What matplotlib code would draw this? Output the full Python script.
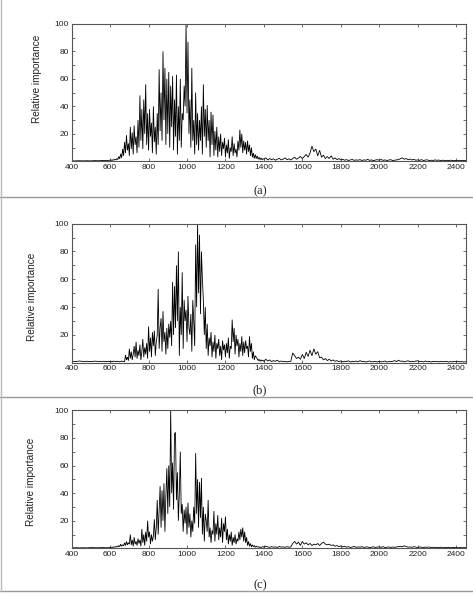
import numpy as np
import matplotlib
matplotlib.use("Agg")
import matplotlib.pyplot as plt
from matplotlib.lines import Line2D

# ---------------- data ----------------
x_lo = np.arange(400, 600, 20)      # 10 points
x_mid = np.arange(600, 1400, 5)     # 160 points
x_hi = np.arange(1400, 2460, 10)    # 106 points

a_lo = [0.3, 0.3, 0.4, 0.3, 0.4, 0.3, 0.5, 0.4, 0.6, 0.5]
a_mid = [
    0.8, 1.0, 0.6, 1.2, 0.8, 1.5, 1.0, 2.0, 1.2, 3.5, 1.8, 5.5, 2.5, 9, 4, 14, 6, 19, 8, 13,
    4, 25, 9, 21, 5, 26, 12, 18, 6, 30, 10, 48, 15, 38, 9, 45, 20, 56, 12, 35,
    8, 38, 18, 28, 6, 40, 14, 25, 5, 35, 12, 67, 22, 50, 15, 80, 30, 68, 12, 60,
    20, 65, 10, 55, 25, 62, 8, 45, 18, 63, 5, 40, 15, 60, 10, 35, 30, 55, 40, 100,
    35, 87, 20, 45, 10, 68, 15, 30, 5, 50, 12, 35, 8, 30, 15, 40, 5, 56, 18, 38,
    10, 41, 15, 30, 3, 36, 12, 34, 4, 22, 8, 25, 3, 18, 7, 20, 4, 14, 9, 17,
    3, 12, 6, 16, 2, 10, 7, 18, 4, 13, 6, 9, 3, 15, 8, 23, 10, 20, 6, 15,
    8, 14, 5, 15, 7, 12, 4, 10, 3, 6, 2, 5, 2, 4, 1.5, 3, 1.2, 2.5, 1.0, 2,
]
a_hi = [
    1.5, 2.5, 1.0, 2.0, 1.2, 1.8, 0.8, 1.5, 2.2, 1.0,
    1.5, 2.5, 1.2, 1.8, 1.0, 2.0, 3.0, 1.5, 2.5, 3.5,
    2.0, 3.5, 5.0, 3.0, 6.0, 11.0, 7.0, 9.0, 4.0, 8.0,
    3.0, 4.5, 2.0, 3.5, 2.0, 4.0, 1.5, 2.5, 1.2, 2.0,
    1.0, 1.5, 0.8, 1.2, 0.6, 1.0, 1.3, 0.7, 1.0, 0.8,
    1.2, 0.6, 1.0, 0.8, 1.4, 0.7, 1.0, 0.5, 0.9, 1.2,
    0.8, 1.3, 0.7, 1.0, 0.6, 0.9, 1.2, 0.5, 0.8, 1.0,
    1.3, 1.8, 2.5, 1.5, 2.0, 1.2, 1.6, 1.0, 1.4, 0.8,
    1.0, 0.7, 1.2, 0.6, 0.9, 1.1, 0.5, 0.8, 0.6, 1.0,
    0.7, 0.9, 0.5, 0.8, 0.6, 0.7, 0.5, 0.8, 0.6, 0.5,
    0.6, 0.4, 0.7, 0.5, 0.6, 0.5,
]

b_lo = [1.0, 0.8, 1.2, 0.9, 1.0, 0.8, 1.1, 0.9, 1.0, 0.8]
b_mid = [
    0.8, 1.0, 0.6, 1.2, 0.9, 1.0, 0.7, 1.1, 0.8, 1.0, 0.6, 0.9, 1.2, 0.8, 1.0, 0.7, 5.5, 2.0, 4.0, 1.5,
    10, 3, 8, 2, 6, 12, 4, 15, 3, 9, 5, 13, 2, 8, 17, 4, 11, 6, 14, 3,
    26, 8, 18, 4, 22, 12, 23, 5, 15, 20, 53, 10, 25, 32, 8, 37, 15, 22, 6, 25,
    10, 28, 18, 30, 12, 58, 20, 55, 25, 70, 30, 80, 5, 40, 20, 65, 10, 45, 30, 38,
    15, 48, 25, 20, 35, 8, 45, 30, 12, 85, 40, 100, 50, 92, 35, 80, 60, 45, 20, 40,
    10, 28, 5, 18, 12, 22, 4, 15, 8, 20, 3, 14, 10, 17, 5, 12, 2, 16, 9, 13,
    4, 14, 7, 18, 3, 12, 10, 31, 15, 25, 6, 20, 12, 17, 4, 14, 8, 19, 5, 15,
    7, 16, 10, 12, 4, 19, 8, 14, 3, 8, 2, 5, 4, 3, 1.5, 2.5, 1.0, 2.0, 1.2, 1.8,
]
b_hi = [
    1.0, 2.5, 1.2, 2.0, 0.8, 1.5, 1.0, 1.8, 0.7, 1.2,
    0.8, 1.0, 0.6, 0.9, 1.0, 7.0, 5.0, 3.0, 4.0, 2.5,
    6.0, 3.0, 7.5, 4.5, 9.0, 5.0, 10.0, 6.0, 8.0, 3.5,
    4.0, 2.0, 3.0, 1.5, 2.5, 1.2, 2.0, 1.0, 1.5, 0.8,
    1.2, 0.6, 1.0, 0.8, 1.4, 0.5, 1.0, 0.7, 1.2, 0.6,
    1.5, 0.8, 1.0, 0.5, 0.9, 1.2, 0.6, 0.8, 1.0, 0.5,
    1.0, 0.6, 0.8, 1.2, 0.5, 0.9, 0.7, 1.0, 1.5, 0.8,
    1.8, 1.0, 1.2, 0.6, 1.0, 1.4, 0.7, 1.0, 0.8, 1.2,
    1.4, 0.8, 1.0, 0.6, 1.2, 0.7, 0.9, 0.5, 1.0, 0.8,
    0.9, 0.6, 1.0, 0.7, 0.8, 1.0, 0.5, 0.8, 0.6, 0.9,
    0.7, 1.0, 0.6, 0.8, 0.5, 0.7,
]

c_lo = [0.3, 0.4, 0.3, 0.4, 0.3, 0.5, 0.4, 0.4, 0.5, 0.4]
c_mid = [
    0.5, 0.8, 0.6, 1.0, 0.7, 1.2, 0.9, 1.5, 1.0, 2.0, 1.2, 3.0, 1.5, 2.5, 1.8, 4.0, 2.0, 5.0, 2.5, 4.0,
    3.0, 10.0, 2.5, 6.0, 1.5, 8.0, 3.0, 5.0, 2.0, 7.0, 3.5, 6.0, 1.5, 14.0, 4.0, 10.0, 2.0, 12.0, 5.0, 20.0,
    8.0, 12.0, 3.0, 10.0, 5.0, 9.0, 21.0, 6.0, 15.0, 35.0, 10.0, 28.0, 45.0, 15.0, 42.0, 20.0, 47.0, 12.0, 38.0, 58.0,
    25.0, 60.0, 30.0, 100.0, 40.0, 62.0, 28.0, 83.0, 84.0, 35.0, 55.0, 20.0, 40.0, 70.0, 25.0, 32.0, 12.0, 28.0, 18.0, 30.0,
    10.0, 33.0, 15.0, 25.0, 8.0, 20.0, 12.0, 30.0, 18.0, 69.0, 25.0, 50.0, 15.0, 48.0, 22.0, 51.0, 10.0, 30.0, 5.0, 25.0,
    20.0, 12.0, 35.0, 8.0, 15.0, 4.0, 13.0, 10.0, 27.0, 5.0, 18.0, 10.0, 24.0, 6.0, 15.0, 8.0, 22.0, 4.0, 18.0, 12.0,
    23.0, 6.0, 14.0, 3.0, 10.0, 5.0, 12.0, 2.0, 8.0, 4.0, 10.0, 3.0, 7.0, 5.0, 12.0, 6.0, 14.0, 8.0, 15.0, 5.0,
    12.0, 4.0, 8.0, 2.0, 5.0, 1.5, 3.5, 1.0, 2.5, 1.2, 2.0, 0.8, 1.5, 1.0, 1.2, 0.7, 1.0, 0.6, 0.9, 1.2,
]
c_hi = [
    0.8, 1.5, 1.0, 0.7, 1.2, 0.8, 1.0, 0.6, 1.3, 0.9,
    1.0, 0.7, 1.2, 0.8, 1.0, 3.5, 5.0, 3.0, 4.5, 2.0,
    5.0, 3.0, 4.0, 2.5, 3.5, 2.0, 3.0, 2.5, 3.5, 2.0,
    3.5, 4.5, 3.0, 2.5, 3.0, 2.0, 2.5, 1.5, 2.0, 1.2,
    1.8, 1.0, 1.5, 0.8, 1.2, 0.6, 1.0, 1.3, 0.7, 1.0,
    0.8, 1.2, 0.6, 0.9, 1.0, 0.5, 0.8, 1.1, 0.6, 0.9,
    1.0, 0.7, 1.2, 0.5, 0.8, 1.0, 0.6, 0.9, 0.7, 1.0,
    1.2, 1.5, 1.0, 1.8, 1.3, 0.8, 1.0, 0.7, 1.2, 0.9,
    0.6, 1.0, 0.8, 0.5, 0.9, 0.7, 1.0, 0.5, 0.8, 0.6,
    0.7, 0.5, 0.8, 0.4, 0.6, 0.5, 0.7, 0.4, 0.6, 0.5,
    0.5, 0.4, 0.6, 0.4, 0.5, 0.4,
]

x_ticks = [400, 600, 800, 1000, 1200, 1400, 1600, 1800, 2000, 2200, 2400]
y_ticks = [10, 20, 30, 40, 50, 60, 70, 80, 90, 100]
y_tick_labels = ["", "20", "", "40", "", "60", "", "80", "", "100"]
panel_labels = ["(a)", "(b)", "(c)"]
y_title = "Relative importance"

series = [(a_lo, a_mid, a_hi), (b_lo, b_mid, b_hi), (c_lo, c_mid, c_hi)]

# ---------------- layout ----------------
W, H = 473, 598
fig = plt.figure(figsize=(W / 100, H / 100), dpi=100)
fig.patch.set_facecolor("white")

def fx(px):
    return px / W

def fy(py):
    return 1 - py / H

ax_left, ax_right = 71.7, 465.7
ax_tb = [(24.0, 161.3), (223.7, 362.7), (410.3, 548.3)]
ylab_pos = [(36.7, 79), (31.7, 297), (31.0, 482)]
plab_pos = [(260, 191), (260, 390), (260, 585)]
sep_lines = [197, 397, 591]

sans = ["Liberation Sans", "DejaVu Sans"]
serif = ["Liberation Serif", "DejaVu Serif"]
spine_col = "#555555"

for i, (lo, mid, hi) in enumerate(series):
    top, bot = ax_tb[i]
    ax = fig.add_axes([fx(ax_left), fy(bot), fx(ax_right) - fx(ax_left), fy(top) - fy(bot)])
    xs = np.concatenate([x_lo[:len(lo)], x_mid[:len(mid)], x_hi[:len(hi)]])
    ys = np.concatenate([lo, mid, hi])
    ax.plot(xs, ys, color="black", lw=0.6, solid_joinstyle="miter")
    ax.set_xlim(400, 2450)
    ax.set_ylim(0, 100)
    ax.set_xticks(x_ticks)
    ax.set_xticklabels([str(t) for t in x_ticks], fontfamily=sans, fontsize=6)
    ax.set_yticks(y_ticks)
    ax.set_yticklabels(y_tick_labels, fontfamily=sans, fontsize=6)
    ax.tick_params(direction="in", top=True, right=True, length=2.5, width=0.6,
                   color=spine_col, pad=2, labelcolor="#222222")
    for s in ax.spines.values():
        s.set_color(spine_col)
        s.set_linewidth(0.8)
    lx, ly = ylab_pos[i]
    fig.text(fx(lx), fy(ly), y_title, rotation=90, ha="center", va="center",
             fontsize=7.2, fontfamily=sans, color="#222222")
    px, py = plab_pos[i]
    fig.text(fx(px), fy(py), panel_labels[i], ha="center", va="center",
             fontsize=9, fontfamily=serif, color="#222222")

for py in sep_lines:
    fig.add_artist(Line2D([0, 1], [fy(py), fy(py)], color="#999999", lw=1.0,
                          transform=fig.transFigure))
fig.add_artist(Line2D([fx(0.5), fx(0.5)], [fy(0), fy(591)], color="#bbbbbb", lw=1.0,
                      transform=fig.transFigure))

fig.savefig("out.png", dpi=100, facecolor="white")
